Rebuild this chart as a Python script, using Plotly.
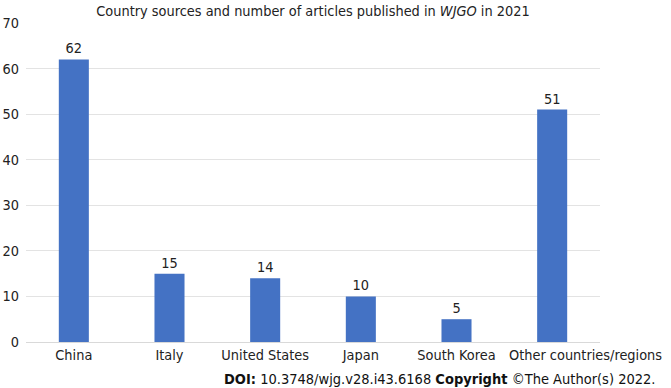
import plotly.graph_objects as go

categories = ["China", "Italy", "United States", "Japan", "South Korea", "Other countries/regions"]
articles = [62, 15, 14, 10, 5, 51]
y_ticks = [0, 10, 20, 30, 40, 50, 60, 70]

FONT = "DejaVu Sans Condensed, Tahoma, Verdana, sans-serif"
FS = 14.4

fig = go.Figure(go.Bar(
    x=categories, y=articles,
    marker=dict(color="#4472C4", line=dict(width=0)),
    text=[str(v) for v in articles], textposition="outside",
    textfont=dict(size=FS, color="#222222", family=FONT),
    cliponaxis=False,
))

fig.update_layout(
    width=671, height=388,
    margin=dict(l=26, r=71, t=23, b=46, autoexpand=False),
    paper_bgcolor="white", plot_bgcolor="white",
    bargap=0.686,
    showlegend=False,
    font=dict(family=FONT, size=FS, color="#222222"),
    title=dict(text="Country sources and number of articles published in <i>WJGO</i> in 2021",
               x=313/671, xanchor="center", y=1 - 11/388, yanchor="middle",
               font=dict(size=FS, family=FONT, color="#222222")),
    xaxis=dict(showline=True, linecolor="#D9D9D9", linewidth=1, ticks="",
               type="category", categoryorder="array", categoryarray=categories,
               range=[-0.5, len(categories) - 0.5],
               tickmode="array", tickvals=categories[:-1], ticktext=categories[:-1],
               tickfont=dict(size=FS), showgrid=False, tickangle=0, automargin=False),
    yaxis=dict(range=[0, 70], tickvals=y_ticks, showgrid=True, gridcolor="#E3E3E3",
               gridwidth=1, zeroline=False, ticks="", tickfont=dict(size=FS),
               ticklabelstandoff=6, automargin=False),
)

# last category label, shifted right as in the reference so it does not collide
fig.add_annotation(
    text=categories[-1], x=len(categories) - 1, xref="x", yref="paper", y=0,
    yanchor="top", yshift=-3, xshift=33, showarrow=False,
    font=dict(size=FS, family=FONT, color="#222222"),
)

fig.add_annotation(
    text="<b>DOI:</b> 10.3748/wjg.v28.i43.6168 <b>Copyright</b> ©The Author(s) 2022.",
    xref="paper", yref="paper", x=1 + 57/574, xanchor="right",
    y=-37/319, yanchor="middle", showarrow=False,
    font=dict(size=14.5, family=FONT, color="#111111"),
)

fig.write_html("out.html", post_script="document.body.style.margin='0';",
               config={"displayModeBar": False})
